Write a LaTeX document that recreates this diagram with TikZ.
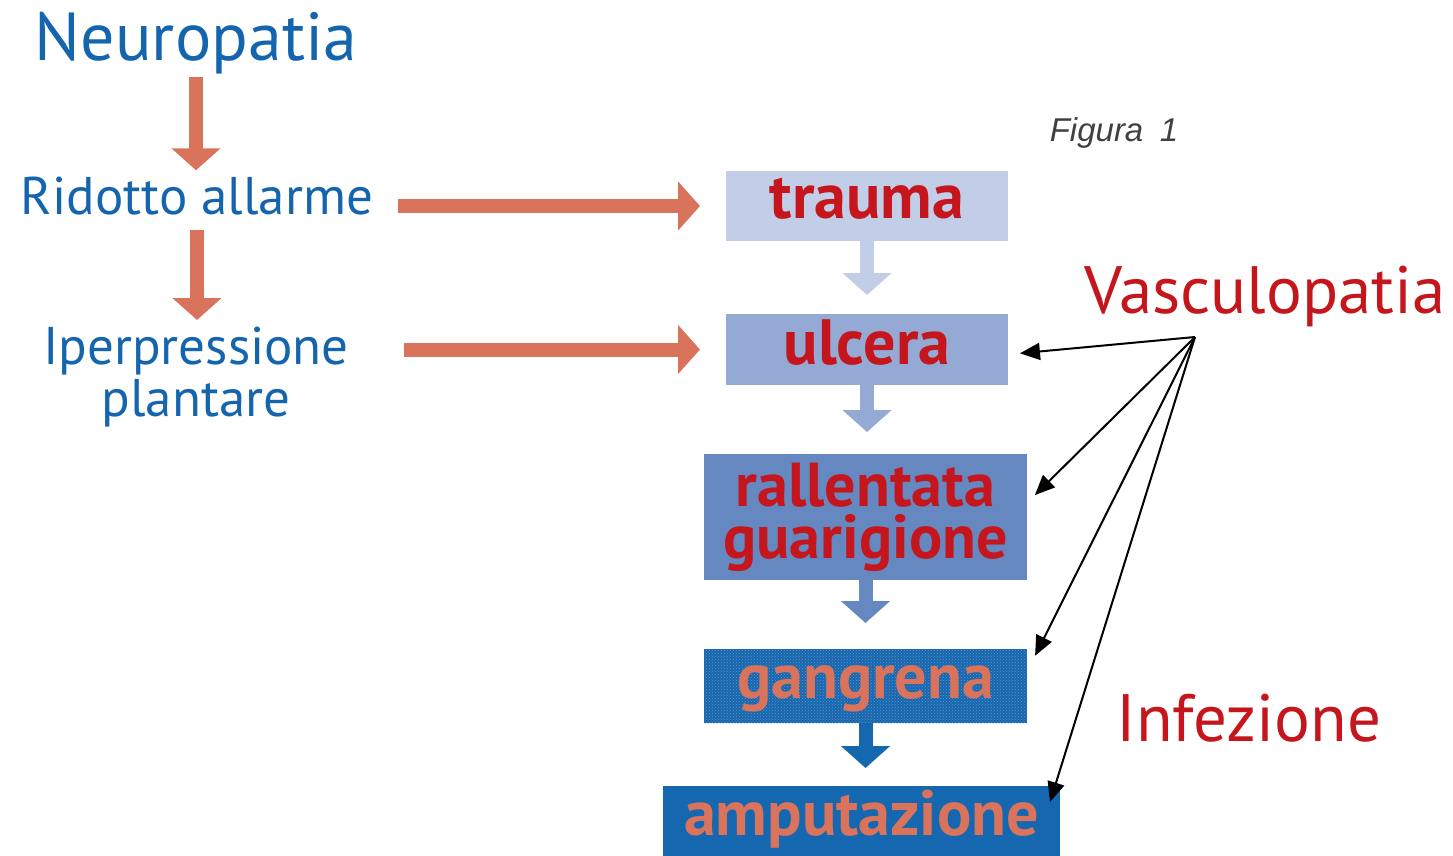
\documentclass[tikz,border=0pt]{standalone}
\usepackage{fontspec}
\setmainfont{PT Sans}
\newfontfamily\figfont{Liberation Sans}
\usepackage{tikz}
\usetikzlibrary{arrows.meta, positioning, patterns}

\definecolor{neublue}{HTML}{1565AE}
\definecolor{vasred}{HTML}{C4161C}
\definecolor{salmon}{HTML}{D9735C}
\definecolor{stageA}{HTML}{C2CDE7}
\definecolor{stageB}{HTML}{94AAD4}
\definecolor{stageC}{HTML}{6588C0}
\definecolor{stageD}{HTML}{6A90C8}
\definecolor{stageE}{HTML}{1568AF}

\tikzset{
  bluetxt/.style={text=neublue, inner sep=0pt},
  redtxt/.style={text=vasred, inner sep=0pt},
  stagebox/.style={fill=#1, inner sep=0pt, outer sep=0pt,
    font=\fontsize{64}{50}\selectfont\bfseries},
  fatarrow/.style={draw=#1, line width=14pt, -{Triangle[width=48pt,length=22pt]}},
  fatarrow/.default=salmon,
  thinarrow/.style={draw=black, line width=2pt, -{Triangle[width=17pt,length=20pt]}}
}

\begin{document}
\begin{tikzpicture}[x=1pt, y=-1pt]
\useasboundingbox (0,0) rectangle (1453,856);
\node [bluetxt, anchor=base, font=\fontsize{68}{68}\selectfont] (neuro) at (196,61) {Neuropatia};
\node [bluetxt, anchor=base, font=\fontsize{53}{53}\selectfont] (ridotto) at (197,214) {Ridotto allarme};
\node [bluetxt, anchor=north, align=center, font=\fontsize{53}{52}\selectfont] (iper) at (196,327) {Iperpressione\\plantare};
\node [anchor=base, inner sep=0pt, text=black!75, font=\figfont\itshape\fontsize{33}{33}\selectfont] (fig) at (1114,142) {Figura\enspace 1};
\node [redtxt, anchor=base, font=\fontsize{67}{67}\selectfont] (vasc) at (1265,313) {Vasculopatia};
\node [redtxt, anchor=base, font=\fontsize{67}{67}\selectfont] (infez) at (1249,741) {Infezione};
\coordinate (hub) at (1195,337);

\node [stagebox=stageA, text=vasred, minimum width=282pt, text height=47pt, text depth=23pt] (trauma) at (867,206) {trauma};
\node [stagebox=stageB, text=vasred, minimum width=282pt, text height=50pt, text depth=21pt] (ulcera) at (867,349.5) {ulcera};
\node [stagebox=stageC, text=vasred, minimum width=323pt, minimum height=126pt, align=center, font=\fontsize{62}{52}\selectfont\bfseries] (rallent) at (865.5,517) {rallentata\\guarigione};
\node [stagebox=stageE, pattern=crosshatch dots, pattern color=stageD, text=salmon, minimum width=323pt, text height=49pt, text depth=25pt, preaction={fill=stageE}] (gangrena) at (865.5,686) {gangrena};
\node [stagebox=stageE, text=salmon, minimum width=397pt, text height=49pt, text depth=21pt] (amput) at (861.5,821) {amputazione};

\draw [fatarrow, shorten <=2pt, shorten >=6pt] (neuro.south) -- (neuro.south |- ridotto.north);
\draw [fatarrow, shorten <=15pt, shorten >=7pt] (ridotto.south) -- (ridotto.south |- iper.north);
\draw [fatarrow, shorten <=25pt, shorten >=26pt] (ridotto.east |- trauma.west) -- (trauma.west);
\draw [fatarrow, shorten <=55pt, shorten >=26pt] (iper.east |- ulcera.west) -- (ulcera.west);

\draw [fatarrow=stageA, shorten >=19pt] (trauma.south) -- (ulcera.north);
\draw [fatarrow=stageB, shorten >=22pt] (ulcera.south) -- (ulcera.south |- rallent.north);
\draw [fatarrow=stageC, shorten >=26pt] (rallent.south) -- (gangrena.north);
\draw [fatarrow=stageE, shorten >=18pt] (gangrena.south) -- (gangrena.south |- amput.north);

\draw [thinarrow, shorten >=12pt] (hub) -- (ulcera.-2);
\draw [thinarrow, shorten >=11pt] (hub) -- (rallent.5);
\draw [thinarrow, shorten >=18pt] (hub) -- (gangrena.5);
\draw [thinarrow] (hub) -- ([shift={(-10,16)}]amput.north east);
\end{tikzpicture}
\end{document}
